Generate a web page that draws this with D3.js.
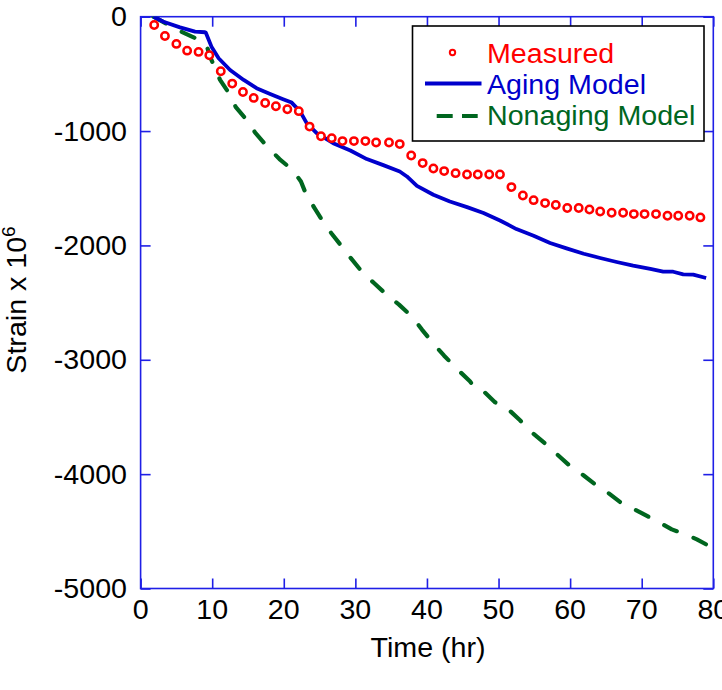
<!DOCTYPE html>
<html>
<head>
<meta charset="utf-8">
<script src="https://cdn.jsdelivr.net/npm/d3@7"></script>
<style>
  html, body { margin: 0; padding: 0; background: #fff; }
  svg { display: block; font-family: "Liberation Sans", Arial, sans-serif; }
</style>
</head>
<body>
<svg id="chart" width="722" height="690"></svg>
<script>
// ---- data ----
const xTicks = [0, 10, 20, 30, 40, 50, 60, 70, 80];
const yTicks = [0, -1000, -2000, -3000, -4000, -5000];
const seriesNames = ["Measured", "Aging Model", "Nonaging Model"];

const measuredT = [1.9, 3.4, 5.0, 6.5, 8.1, 9.6, 11.2, 12.8, 14.3, 15.8, 17.4, 18.9, 20.5, 22.1, 23.6, 25.2,
  26.7, 28.2, 29.8, 31.4, 32.9, 34.7, 36.2, 37.8, 39.4, 40.9, 42.4, 44.0, 45.6, 47.1, 48.7, 50.2,
  51.8, 53.4, 54.9, 56.5, 58.0, 59.6, 61.2, 62.7, 64.2, 65.8, 67.4, 68.9, 70.4, 72.0, 73.6, 75.1, 76.7, 78.2];
const measuredV = [-72, -169, -238, -297, -308, -337, -477, -585, -658, -710, -754, -783, -809, -826, -961, -1046,
  -1062, -1088, -1088, -1088, -1100, -1100, -1114, -1214, -1280, -1328, -1350, -1368, -1380, -1380, -1380, -1380,
  -1490, -1563, -1604, -1630, -1647, -1673, -1673, -1686, -1703, -1714, -1714, -1726, -1726, -1726, -1741, -1741, -1741, -1755];

const agingT = [1.8, 3.2, 5.5, 7.6, 9.0, 9.1, 9.9, 10.9, 12.5, 14.4, 16.2, 18.1, 19.9, 21.1, 22.3, 23.2, 24.6,
  26.9, 29.3, 31.6, 33.9, 36.2, 37.2, 38.6, 40.9, 43.2, 45.6, 47.9, 50.2, 52.5, 54.9, 57.2, 59.5,
  61.9, 64.2, 66.5, 68.8, 71.2, 73.0, 74.4, 75.8, 77.2, 79.0];
const agingV = [0, -44, -93, -131, -136, -138, -262, -363, -466, -553, -625, -675, -721, -751, -830, -931, -1018,
  -1106, -1170, -1245, -1298, -1354, -1397, -1479, -1557, -1616, -1665, -1717, -1782, -1857, -1915, -1979, -2026,
  -2073, -2110, -2145, -2177, -2206, -2230, -2230, -2253, -2256, -2285];

const nonagingT = [1.8, 3.9, 5.7, 7.4, 9.2, 9.7, 10.4, 11.1, 12.5, 13.3, 14.8, 16.0, 17.6, 19.4, 21.3, 22.4, 23.2,
  24.3, 25.4, 26.7, 28.1, 29.4, 31.0, 32.6, 34.5, 36.1, 38.1, 39.3, 40.9, 42.4, 44.2, 46.0, 46.7, 47.9,
  49.5, 51.4, 53.0, 54.6, 56.5, 58.2, 60.0, 61.9, 63.5, 65.3, 67.0, 68.8, 70.6, 72.5, 74.2, 76.1, 77.7, 79.0];
const nonagingV = [0, -72, -131, -180, -247, -349, -451, -553, -684, -791, -902, -1013, -1129, -1245, -1345, -1441, -1566,
  -1673, -1784, -1898, -2009, -2114, -2236, -2329, -2439, -2518, -2634, -2736, -2859, -2964, -3080, -3188, -3246, -3275,
  -3371, -3435, -3529, -3633, -3732, -3828, -3930, -4012, -4090, -4163, -4245, -4302, -4361, -4424, -4483, -4526, -4570, -4614];

// ---- layout ----
const svg = d3.select("#chart");
const X0 = 140.6, X1 = 713.3, Y0 = 16.7, Y1 = 588.5;
const x = d3.scaleLinear().domain([0, 80]).range([X0, X1]);
const y = d3.scaleLinear().domain([-5000, 0]).range([Y1, Y0]);

const axisColor = "#1f1fe6";
const red = "#ff0000", blue = "#0000cc", green = "#00661f";
const FS = 27, SX = 1.06;

// axis box with inward ticks on all sides
const axG = svg.append("g");
function styleAxis(g) {
  g.select(".domain").remove();
  g.selectAll(".tick line").attr("stroke", axisColor).attr("stroke-width", 1.6);
  g.selectAll("text").remove();
}
axG.append("g").attr("transform", `translate(0,${Y1})`)
  .call(d3.axisBottom(x).tickValues(xTicks).tickSizeInner(-10).tickSizeOuter(0)).call(styleAxis);
axG.append("g").attr("transform", `translate(0,${Y0})`)
  .call(d3.axisTop(x).tickValues(xTicks).tickSizeInner(-10).tickSizeOuter(0)).call(styleAxis);
axG.append("g").attr("transform", `translate(${X0},0)`)
  .call(d3.axisLeft(y).tickValues(yTicks).tickSizeInner(-10).tickSizeOuter(0)).call(styleAxis);
axG.append("g").attr("transform", `translate(${X1},0)`)
  .call(d3.axisRight(y).tickValues(yTicks).tickSizeInner(-10).tickSizeOuter(0)).call(styleAxis);
axG.append("rect").attr("x", X0).attr("y", Y0).attr("width", X1 - X0).attr("height", Y1 - Y0)
  .attr("fill", "none").attr("stroke", axisColor).attr("stroke-width", 1.6);

// tick labels
svg.append("g").selectAll("text").data(xTicks).join("text")
  .attr("transform", d => `translate(${x(d)},619) scale(${SX},1)`).attr("text-anchor", "middle")
  .attr("font-size", FS).attr("fill", "#000").text(d => d);
svg.append("g").selectAll("text").data(yTicks).join("text")
  .attr("transform", d => `translate(127,${y(d) + 9.5}) scale(${SX},1)`).attr("text-anchor", "end")
  .attr("font-size", FS).attr("fill", "#000").text(d => d);

// axis titles
svg.append("text").attr("transform", `translate(428,657) scale(${SX},1)`).attr("text-anchor", "middle")
  .attr("font-size", FS).attr("fill", "#000").text("Time (hr)");
const yl = svg.append("text").attr("transform", `translate(26,300) rotate(-90) scale(${SX},1)`)
  .attr("text-anchor", "middle").attr("font-size", FS).attr("fill", "#000");
yl.append("tspan").text("Strain x 10");
yl.append("tspan").attr("font-size", 18).attr("dy", -11).text("6");

// series
svg.append("clipPath").attr("id", "plotclip").append("rect")
  .attr("x", X0).attr("y", Y0).attr("width", X1 - X0).attr("height", Y1 - Y0);
const plot = svg.append("g").attr("clip-path", "url(#plotclip)");
const line = d3.line().x(d => x(d[0])).y(d => y(d[1]));

plot.append("path").datum(d3.zip(nonagingT, nonagingV)).attr("d", line)
  .attr("fill", "none").attr("stroke", green).attr("stroke-width", 4.2)
  .attr("stroke-dasharray", "14,18").attr("stroke-linecap", "round").attr("stroke-linejoin", "round");
plot.append("path").datum(d3.zip(agingT, agingV)).attr("d", line)
  .attr("fill", "none").attr("stroke", blue).attr("stroke-width", 3.8).attr("stroke-linejoin", "round");
plot.append("g").selectAll("circle").data(d3.zip(measuredT, measuredV)).join("circle")
  .attr("cx", d => x(d[0])).attr("cy", d => y(d[1])).attr("r", 3.7)
  .attr("fill", "#fff").attr("stroke", red).attr("stroke-width", 2.5);

// legend
const lg = svg.append("g");
lg.append("rect").attr("x", 412.5).attr("y", 26).attr("width", 291.5).attr("height", 115)
  .attr("fill", "#fff").attr("stroke", "#000").attr("stroke-width", 1.6);
lg.append("circle").attr("cx", 452.5).attr("cy", 52.5).attr("r", 2.7)
  .attr("fill", "#fff").attr("stroke", red).attr("stroke-width", 2);
lg.append("line").attr("x1", 425).attr("x2", 481.5).attr("y1", 83.5).attr("y2", 83.5)
  .attr("stroke", blue).attr("stroke-width", 3.8);
lg.append("line").attr("x1", 436.7).attr("x2", 477.7).attr("y1", 116).attr("y2", 116)
  .attr("stroke", green).attr("stroke-width", 4.2).attr("stroke-dasharray", "16,9.3");
const legColors = [red, blue, green];
const legBase = [63, 94, 125];
lg.selectAll("text.leg").data(seriesNames).join("text").attr("class", "leg")
  .attr("transform", (d, i) => `translate(487,${legBase[i]}) scale(${SX},1)`).attr("font-size", FS)
  .attr("fill", (d, i) => legColors[i]).text(d => d);
</script>
</body>
</html>
